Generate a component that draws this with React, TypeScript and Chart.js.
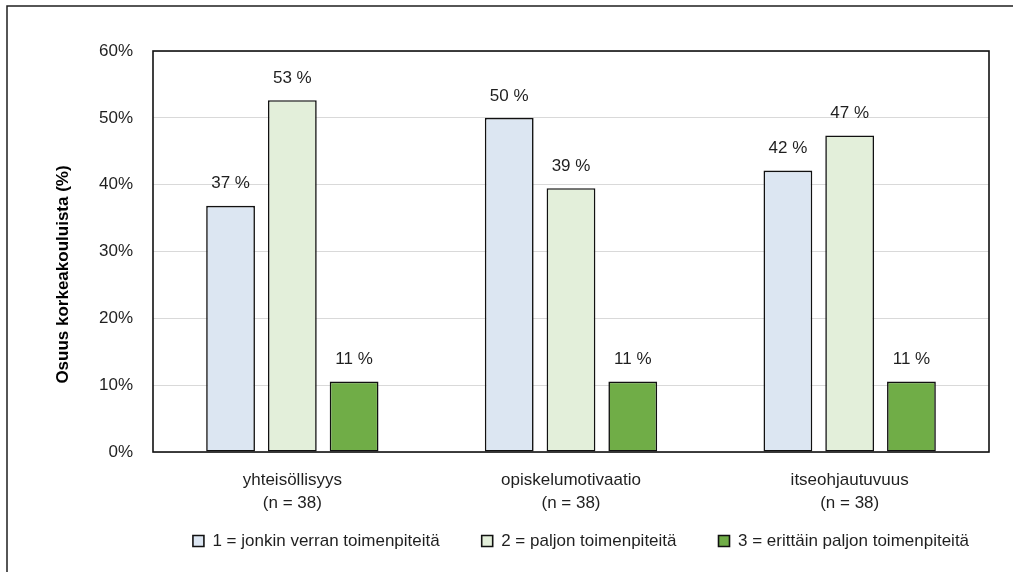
import React, { useEffect, useRef } from "react";
import { Chart, registerables } from "chart.js";

Chart.register(...registerables);

const categories: string[][] = [
  ["yhteisöllisyys", "(n = 38)"],
  ["opiskelumotivaatio", "(n = 38)"],
  ["itseohjautuvuus", "(n = 38)"],
];
const seriesNames = [
  "1 = jonkin verran toimenpiteitä",
  "2 = paljon toimenpiteitä",
  "3 = erittäin paljon toimenpiteitä",
];
const series1 = [36.84, 50.0, 42.11];
const series2 = [52.63, 39.47, 47.37];
const series3 = [10.53, 10.53, 10.53];
const seriesColors = ["#DCE6F2", "#E3EFDA", "#70AD47"];
const yAxisTitle = "Osuus korkeakouluista (%)";
const yMin = 0;
const yMax = 60;
const yStep = 10;

const FONT = "'Liberation Sans', Arial, sans-serif";
const FS = 17;
const TEXT = "#1f1f1f";
const LEGEND_PAD = 42;

const framePlugin = {
  id: "frame",
  beforeDraw(chart: any) {
    const ctx = chart.ctx;
    ctx.save();
    ctx.strokeStyle = "#1f1f1f";
    ctx.lineWidth = 1.5;
    ctx.beginPath();
    ctx.moveTo(7, chart.height + 5);
    ctx.lineTo(7, 6);
    ctx.lineTo(chart.width + 5, 6);
    ctx.stroke();
    ctx.restore();
  },
  afterDraw(chart: any) {
    const { ctx, chartArea } = chart;
    ctx.save();
    ctx.strokeStyle = "#111111";
    ctx.lineWidth = 1.6;
    ctx.strokeRect(chartArea.left, chartArea.top, chartArea.right - chartArea.left, chartArea.bottom - chartArea.top);
    ctx.restore();
  },
};

const valueLabelPlugin = {
  id: "valueLabels",
  afterDatasetsDraw(chart: any) {
    const ctx = chart.ctx;
    ctx.save();
    ctx.font = `${FS}px ${FONT}`;
    ctx.fillStyle = TEXT;
    ctx.textAlign = "center";
    ctx.textBaseline = "middle";
    chart.data.datasets.forEach((ds: any, i: number) => {
      const meta = chart.getDatasetMeta(i);
      meta.data.forEach((el: any, j: number) => {
        const v = ds.data[j];
        ctx.fillText(`${Math.round(v)} %`, el.x, el.y - 22);
      });
    });
    ctx.restore();
  },
};

const layoutTweakPlugin = {
  id: "layoutTweak",
  afterLayout(chart: any) {
    const lg = chart.legend;
    if (lg) {
      const dx = 581 - (lg.left + lg.right) / 2;
      lg.left += dx;
      lg.right += dx;
      const dy = 541 - (lg.top + LEGEND_PAD + FS / 2);
      lg.top += dy;
      lg.bottom += dy;
    }
    const ys = chart.scales.y;
    if (ys && !ys.__titleShifted) {
      const orig = ys.drawTitle.bind(ys);
      ys.drawTitle = function () {
        const ctx = this.ctx;
        ctx.save();
        ctx.translate(0, 23);
        orig();
        ctx.restore();
      };
      ys.__titleShifted = true;
    }
  },
};

export default function App() {
  const ref = useRef<HTMLCanvasElement | null>(null);
  useEffect(() => {
    if (!ref.current) return;
    const chart = new Chart(ref.current, {
      type: "bar",
      data: {
        labels: categories,
        datasets: [series1, series2, series3].map((d, i) => ({
          label: seriesNames[i],
          data: d,
          backgroundColor: seriesColors[i],
          borderColor: "#111111",
          borderWidth: 1.6,
          borderSkipped: false,
          categoryPercentage: 0.665,
          barPercentage: 0.79,
        })),
      },
      options: {
        animation: false,
        responsive: false,
        maintainAspectRatio: false,
        layout: { padding: { top: 51, right: 24, left: 45, bottom: 572 - 452 - 70 - (LEGEND_PAD + FS + 10) } },
        plugins: {
          tooltip: { enabled: false },
          legend: {
            position: "bottom",
            labels: {
              font: { family: FONT, size: FS },
              color: TEXT,
              boxWidth: 11,
              boxHeight: 11,
              padding: LEGEND_PAD,
            },
          },
        },
        scales: {
          x: {
            grid: { display: false, drawTicks: false },
            border: { display: false },
            ticks: {
              font: { family: FONT, size: FS, lineHeight: 1.35 },
              color: TEXT,
              padding: 17,
              maxRotation: 0,
              autoSkip: false,
            },
            afterFit(scale: any) {
              scale.height = 70;
            },
          },
          y: {
            min: yMin,
            max: yMax,
            grid: { color: "#D9D9D9", lineWidth: 1, drawTicks: false },
            border: { display: false },
            ticks: {
              stepSize: yStep,
              font: { family: FONT, size: FS },
              color: TEXT,
              padding: 20,
              callback: (v: any) => `${v}%`,
            },
            title: {
              display: true,
              text: yAxisTitle,
              font: { family: FONT, size: FS, weight: "bold" },
              color: "#000000",
              padding: { top: 8, bottom: 0 },
            },
            afterFit(scale: any) {
              scale.width = 108;
            },
          },
        },
      },
      plugins: [framePlugin, valueLabelPlugin, layoutTweakPlugin],
    });
    return () => chart.destroy();
  }, []);
  return (
    <div style={{ position: "fixed", left: 0, top: 0, width: 1013, height: 572, background: "#fff" }}>
      <canvas ref={ref} width={1013} height={572} style={{ width: 1013, height: 572 }} />
    </div>
  );
}
